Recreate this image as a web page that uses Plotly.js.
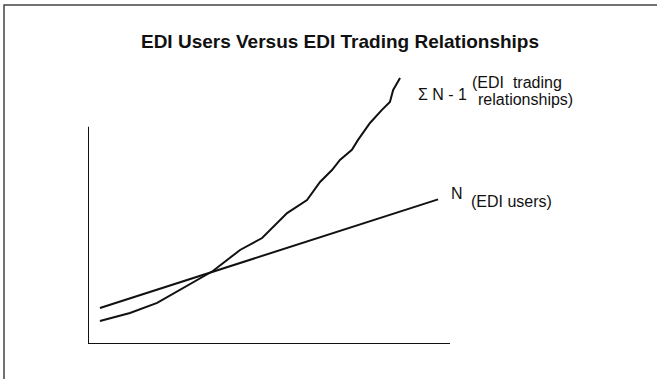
<!DOCTYPE html>
<html>
<head>
<meta charset="utf-8">
<script src="https://cdn.plot.ly/plotly-3.0.1.min.js"></script>
<style>
  body { margin: 0; background: #fff; }
  #chart { width: 657px; height: 379px; }
</style>
</head>
<body>
<div id="chart"></div>
<script>
// N (EDI users) - straight line
var usersX = [3.3, 96.7];
var usersY = [16.6, 66.6];

// sum N-1 (EDI trading relationships)
var relX = [3.3, 11.6, 19.1, 25.4, 30.9, 34.5, 42.0, 48.1, 55.0, 60.5, 64.1, 67.4, 69.6, 72.9, 74.6, 77.9, 81.2, 83.4, 84.3, 86.2];
var relY = [10.6, 14.3, 18.9, 24.9, 30.4, 33.6, 43.3, 48.8, 60.3, 66.3, 74.6, 80.1, 84.8, 89.4, 94.0, 101.8, 107.8, 111.5, 117.0, 122.5];

var titleText = 'EDI Users Versus EDI Trading Relationships';
var fnt = 'Liberation Sans, Arial, Helvetica, sans-serif';

window.onload = function () {

    var traceRel = {
        x: relX,
        y: relY,
        type: 'scatter',
        mode: 'lines',
        line: { color: '#111', width: 2 },
        hoverinfo: 'skip'
    };

    var traceUsers = {
        x: usersX,
        y: usersY,
        type: 'scatter',
        mode: 'lines',
        line: { color: '#111', width: 2 },
        hoverinfo: 'skip'
    };

    // labels sit right of the plot area, so paper coords (x: 88..450px, y: 344..40px)
    function lab(txt, px, py, size) {
        return { x: (px - 88) / 362, y: (344 - py) / 304, xref: 'paper', yref: 'paper',
                 text: txt, showarrow: false, xanchor: 'left', yanchor: 'middle',
                 font: { size: size, color: '#111' } };
    }

    var layout = {
        width: 657,
        height: 379,
        showlegend: false,
        paper_bgcolor: '#fff',
        plot_bgcolor: '#fff',
        margin: { l: 88, r: 207, t: 40, b: 35 },
        font: { family: fnt, color: '#111' },
        title: {
            text: '<b>' + titleText + '</b>',
            font: { family: fnt, size: 19, color: '#111' },
            x: 340 / 657,
            xanchor: 'center',
            y: 1 - 41 / 379,
            yanchor: 'middle'
        },
        xaxis: {
            range: [0, 100],
            showgrid: false, zeroline: false, showticklabels: false, ticks: '', showline: false
        },
        yaxis: {
            range: [0, 140],
            showgrid: false, zeroline: false, showticklabels: false, ticks: '', showline: false
        },
        shapes: [
            // axes
            { type: 'line', xref: 'x', yref: 'y', x0: 0, y0: 0, x1: 100, y1: 0, line: { color: '#111', width: 2 } },
            { type: 'line', xref: 'x', yref: 'y', x0: 0, y0: 0, x1: 0, y1: 100, line: { color: '#111', width: 2 } },
            // picture border, top and left only visible
            { type: 'rect', xref: 'paper', yref: 'paper', x0: -0.232, x1: 1.62, y0: -0.2, y1: 1.115,
              line: { color: '#444', width: 1.5 } }
        ],
        annotations: [
            lab('\u03A3 N - 1', 416, 94, 16),
            lab('(EDI  trading', 470, 82, 16),
            lab('relationships)', 476, 100, 16),
            lab('N', 449, 193, 16),
            lab('(EDI users)', 469, 201, 16)
        ]
    };

    Plotly.newPlot('chart', [traceRel, traceUsers], layout, { displayModeBar: false, staticPlot: true });
};
</script>
</body>
</html>
